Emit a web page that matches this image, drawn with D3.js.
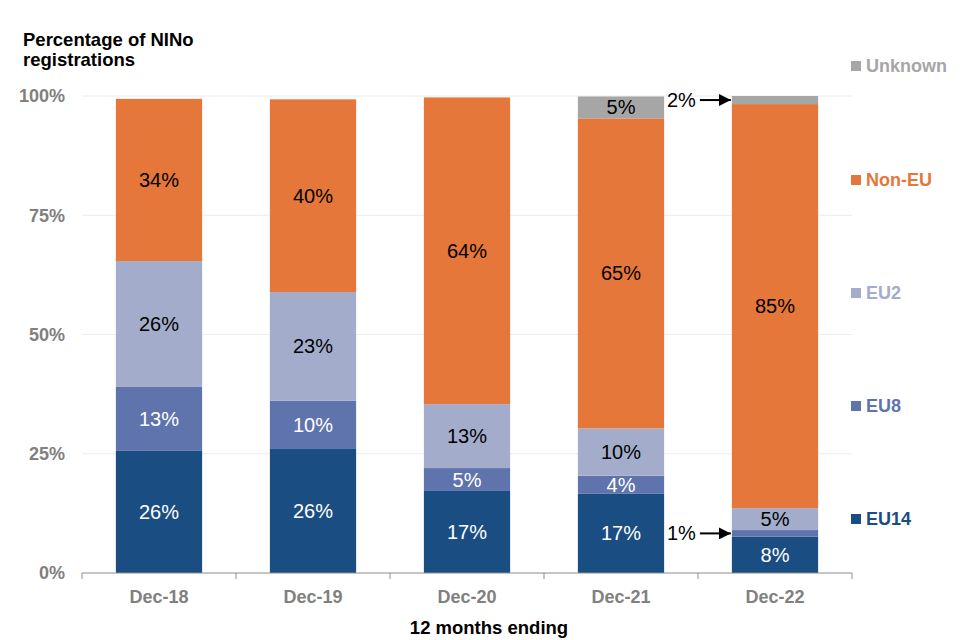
<!DOCTYPE html>
<html>
<head>
<meta charset="utf-8">
<script src="https://cdn.jsdelivr.net/npm/d3@7"></script>
<style>
  body { margin: 0; background: #fff; }
  text { font-family: Arial, "Liberation Sans", sans-serif; }
</style>
</head>
<body>
<div id="chart"></div>
<script>
var categories = ['Dec-18', 'Dec-19', 'Dec-20', 'Dec-21', 'Dec-22'];
var seriesNames = ['EU14', 'EU8', 'EU2', 'Non-EU', 'Unknown'];
var eu14 = [25.6, 26.0, 17.2, 16.6, 7.6];
var eu8 = [13.4, 10.1, 4.8, 3.8, 1.4];
var eu2 = [26.4, 22.8, 13.4, 9.9, 4.6];
var nonEu = [34.0, 40.4, 64.3, 65.0, 84.7];
var unknown = [0, 0, 0, 4.6, 1.7];
var yTicks = [0, 25, 50, 75, 100];

var colors = {
    'EU14': '#1a4e82',
    'EU8': '#5f73ad',
    'EU2': '#a3adcb',
    'Non-EU': '#e5773a',
    'Unknown': '#a6a6a6'
};
var labelColors = {
    'EU14': '#fff',
    'EU8': '#fff',
    'EU2': '#000',
    'Non-EU': '#000',
    'Unknown': '#000'
};

var width = 960, height = 640;
var svg = d3.select('#chart').append('svg')
    .attr('width', width)
    .attr('height', height);

var table = categories.map(function(c, i) {
    return {cat: c, 'EU14': eu14[i], 'EU8': eu8[i], 'EU2': eu2[i], 'Non-EU': nonEu[i], 'Unknown': unknown[i]};
});
var stacked = d3.stack().keys(seriesNames)(table);

var x = d3.scaleBand().domain(categories).range([82, 852]).paddingInner(0.44).paddingOuter(0.22);
var y = d3.scaleLinear().domain([0, 100]).range([573, 96]);

// gridlines
svg.append('g').selectAll('line')
    .data(yTicks.filter(function(t) { return t > 0; }))
    .enter().append('line')
    .attr('x1', 82).attr('x2', 852)
    .attr('y1', function(d) { return y(d); })
    .attr('y2', function(d) { return y(d); })
    .attr('stroke', '#ececec')
    .attr('stroke-width', 1);

// y labels
svg.append('g').selectAll('text')
    .data(yTicks)
    .enter().append('text')
    .attr('x', 65)
    .attr('y', function(d) { return y(d); })
    .attr('dy', '0.35em')
    .attr('text-anchor', 'end')
    .attr('fill', '#808080')
    .attr('font-size', '18px')
    .attr('font-weight', 'bold')
    .text(function(d) { return d + '%'; });

// bars
var layers = svg.append('g').selectAll('g')
    .data(stacked)
    .enter().append('g')
    .attr('fill', function(d) { return colors[d.key]; });

layers.selectAll('rect')
    .data(function(d) { return d; })
    .enter().append('rect')
    .attr('x', function(d) { return x(d.data.cat); })
    .attr('width', x.bandwidth())
    .attr('y', function(d) { return y(d[1]); })
    .attr('height', function(d) { return y(d[0]) - y(d[1]); });

// labels in segments
stacked.forEach(function(layer) {
    svg.append('g').selectAll('text')
        .data(layer.filter(function(d) { return d[1] - d[0] >= 3; }))
        .enter().append('text')
        .attr('x', function(d) { return x(d.data.cat) + x.bandwidth() / 2; })
        .attr('y', function(d) { return y((d[0] + d[1]) / 2); })
        .attr('dy', '0.35em')
        .attr('text-anchor', 'middle')
        .attr('font-size', '20px')
        .attr('fill', labelColors[layer.key])
        .text(function(d) { return Math.round(d[1] - d[0]) + '%'; });
});

// x axis
var xAxis = svg.append('g').attr('transform', 'translate(0,' + y(0) + ')');
xAxis.append('line').attr('x1', 82).attr('x2', 852).attr('stroke', '#8c8c8c');
var edges = categories.map(function(c) { return x(c) - x.step() * x.paddingInner() / 2; });
edges.push(852);
xAxis.selectAll('.tick').data(edges).enter().append('line')
    .attr('x1', function(d) { return d; }).attr('x2', function(d) { return d; })
    .attr('y1', 0).attr('y2', 6)
    .attr('stroke', '#8c8c8c');
xAxis.selectAll('text').data(categories).enter().append('text')
    .attr('x', function(d) { return x(d) + x.bandwidth() / 2; })
    .attr('y', 30)
    .attr('text-anchor', 'middle')
    .attr('fill', '#808080')
    .attr('font-size', '18px')
    .attr('font-weight', 'bold')
    .text(function(d) { return d; });

svg.append('text')
    .attr('x', 489).attr('y', 634)
    .attr('text-anchor', 'middle')
    .attr('font-size', '18.5px')
    .attr('font-weight', 'bold')
    .attr('fill', '#000')
    .text('12 months ending');

// title
svg.append('text')
    .attr('x', 23).attr('y', 46)
    .attr('font-size', '18.5px').attr('font-weight', 'bold').attr('fill', '#000')
    .text('Percentage of NINo');
svg.append('text')
    .attr('x', 23).attr('y', 66)
    .attr('font-size', '18.5px').attr('font-weight', 'bold').attr('fill', '#000')
    .text('registrations');

// legend
var legendY = {'Unknown': 66, 'Non-EU': 180, 'EU2': 293, 'EU8': 406, 'EU14': 519};
var legend = svg.append('g').selectAll('g')
    .data(seriesNames.slice().reverse())
    .enter().append('g')
    .attr('transform', function(d) { return 'translate(851,' + legendY[d] + ')'; });
legend.append('rect')
    .attr('x', 0).attr('y', -5).attr('width', 10).attr('height', 10)
    .attr('fill', function(d) { return colors[d]; });
legend.append('text')
    .attr('x', 15).attr('dy', '0.35em')
    .attr('font-size', '18px').attr('font-weight', 'bold')
    .attr('fill', function(d) { return colors[d]; })
    .text(function(d) { return d; });

// arrow annotations for small segments
svg.append('defs').append('marker')
    .attr('id', 'arrow')
    .attr('viewBox', '0 0 10 10')
    .attr('refX', 10).attr('refY', 5)
    .attr('markerWidth', 6).attr('markerHeight', 6)
    .attr('orient', 'auto')
    .append('path').attr('d', 'M0,0L10,5L0,10z').attr('fill', '#000');

var last = categories.length - 1;
var notes = [
    {layer: 4, text: '2%'},
    {layer: 1, text: '1%'}
];
notes.forEach(function(n) {
    var d = stacked[n.layer][last];
    var yy = y((d[0] + d[1]) / 2);
    var bx = x(categories[last]);
    svg.append('line')
        .attr('x1', bx - 32).attr('x2', bx - 1)
        .attr('y1', yy).attr('y2', yy)
        .attr('stroke', '#000').attr('stroke-width', 2)
        .attr('marker-end', 'url(#arrow)');
    svg.append('text')
        .attr('x', bx - 36).attr('y', yy)
        .attr('dy', '0.35em')
        .attr('text-anchor', 'end')
        .attr('font-size', '20px')
        .attr('fill', '#000')
        .text(n.text);
});
</script>
</body>
</html>
